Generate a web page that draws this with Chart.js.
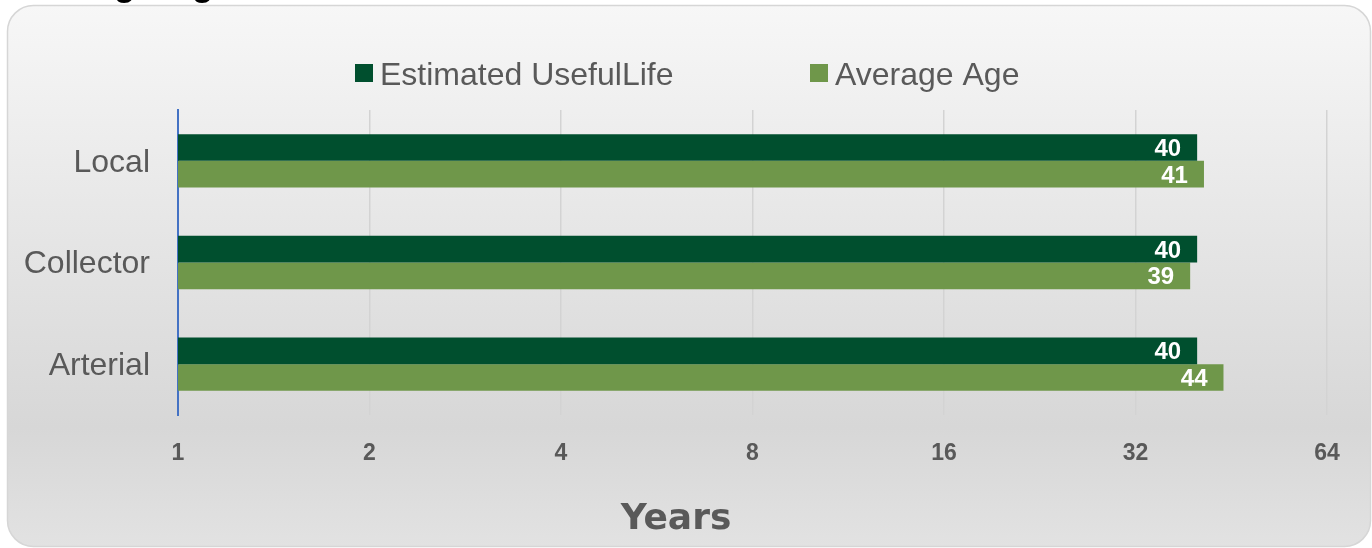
<!DOCTYPE html>
<html><head><meta charset="utf-8">
<script src="https://cdn.jsdelivr.net/npm/chart.js@4"></script>
<style>html,body{margin:0;padding:0;background:#fff;overflow:hidden;} canvas{display:block;}</style>
</head><body>
<canvas id="c" width="1372" height="548"></canvas>
<script>
const categories = ['Local', 'Collector', 'Arterial'];
const seriesNames = ['Estimated UsefulLife', 'Average Age'];
const usefulLife = [40, 40, 40];
const averageAge = [41, 39, 44];
const xTickValues = [1, 2, 4, 8, 16, 32, 64];
const chartTitle = 'Average Age';
const axisTitle = 'Years';
const seriesColors = ['#004f2e', '#6f974a'];
const textGray = '#595959';

function roundRectPath(ctx, x, y, w, h, r) {
  ctx.beginPath();
  ctx.moveTo(x + r, y);
  ctx.lineTo(x + w - r, y);
  ctx.arcTo(x + w, y, x + w, y + r, r);
  ctx.lineTo(x + w, y + h - r);
  ctx.arcTo(x + w, y + h, x + w - r, y + h, r);
  ctx.lineTo(x + r, y + h);
  ctx.arcTo(x, y + h, x, y + h - r, r);
  ctx.lineTo(x, y + r);
  ctx.arcTo(x, y, x + r, y, r);
  ctx.closePath();
}

const backgroundPlugin = {
  id: 'bgBox',
  beforeDraw(chart) {
    const ctx = chart.ctx;
    ctx.save();
    ctx.fillStyle = '#ffffff';
    ctx.fillRect(0, 0, chart.width, chart.height);
    const g = ctx.createLinearGradient(0, 5, 0, 547);
    g.addColorStop(0, '#f7f7f7');
    g.addColorStop(0.78, '#d7d7d7');
    g.addColorStop(1, '#e2e2e2');
    roundRectPath(ctx, 7.5, 5.5, 1363, 541, 26);
    ctx.fillStyle = g;
    ctx.fill();
    ctx.strokeStyle = '#d6d6d6';
    ctx.lineWidth = 1.5;
    ctx.stroke();
    // chart title (cut off at top of frame)
    ctx.font = 'bold 36px "Liberation Sans", Arial, sans-serif';
    ctx.fillStyle = '#000000';
    ctx.textAlign = 'left';
    ctx.textBaseline = 'alphabetic';
    ctx.fillText(chartTitle, 15, -5.5);
    ctx.restore();
  }
};

const decorPlugin = {
  id: 'decor',
  afterDatasetsDraw(chart) {
    const ctx = chart.ctx;
    ctx.save();
    // data labels
    ctx.font = 'bold 24px "Liberation Sans", Arial, sans-serif';
    ctx.fillStyle = '#ffffff';
    ctx.textAlign = 'right';
    ctx.textBaseline = 'middle';
    chart.data.datasets.forEach((ds, i) => {
      const meta = chart.getDatasetMeta(i);
      meta.data.forEach((bar, j) => {
        ctx.fillText(String(ds.data[j]), bar.x - 16, bar.y + 2);
      });
    });
    ctx.restore();
  },
  afterDraw(chart) {
    const ctx = chart.ctx;
    ctx.save();
    // legend
    ctx.font = '32px "Liberation Sans", Arial, sans-serif';
    ctx.textAlign = 'left';
    ctx.textBaseline = 'alphabetic';
    const legendX = [355, 810];
    chart.data.datasets.forEach((ds, i) => {
      ctx.fillStyle = ds.backgroundColor;
      ctx.fillRect(legendX[i], 64, 18, 18);
      ctx.fillStyle = textGray;
      ctx.fillText(ds.label, legendX[i] + 25, 85);
    });
    // axis title
    ctx.font = 'bold 36px "DejaVu Sans", sans-serif';
    ctx.fillStyle = textGray;
    ctx.textAlign = 'center';
    ctx.fillText(axisTitle, 676, 529);
    ctx.restore();
  }
};

new Chart(document.getElementById('c'), {
  type: 'bar',
  data: {
    labels: categories,
    datasets: [
      { label: seriesNames[0], data: usefulLife, backgroundColor: seriesColors[0], borderWidth: 0 },
      { label: seriesNames[1], data: averageAge, backgroundColor: seriesColors[1], borderWidth: 0 }
    ]
  },
  options: {
    indexAxis: 'y',
    responsive: false,
    devicePixelRatio: 1,
    animation: false,
    datasets: { bar: { categoryPercentage: 0.525, barPercentage: 1.0 } },
    layout: { padding: { left: 0, top: 110, right: 45, bottom: 0 } },
    plugins: { legend: { display: false }, title: { display: false }, tooltip: { enabled: false } },
    scales: {
      x: {
        type: 'logarithmic',
        min: xTickValues[0],
        max: xTickValues[xTickValues.length - 1],
        afterBuildTicks(scale) { scale.ticks = xTickValues.map(v => ({ value: v })); },
        afterFit(scale) { scale.height = 133; },
        grid: { display: true, color: '#d3d3d3', lineWidth: 1.5, drawTicks: false },
        border: { display: false },
        ticks: {
          autoSkip: false, maxRotation: 0, padding: 25,
          color: textGray,
          font: { family: '"Liberation Sans", Arial, sans-serif', size: 23, weight: 'bold' },
          callback: (v) => String(v)
        }
      },
      y: {
        afterFit(scale) { scale.width = 178; },
        grid: { display: false, drawTicks: false },
        border: { display: true, color: '#4472c4', width: 2 },
        ticks: {
          padding: 28,
          labelOffset: 2,
          color: textGray,
          font: { family: '"Liberation Sans", Arial, sans-serif', size: 32 }
        }
      }
    }
  },
  plugins: [backgroundPlugin, decorPlugin]
});
</script>
</body></html>
